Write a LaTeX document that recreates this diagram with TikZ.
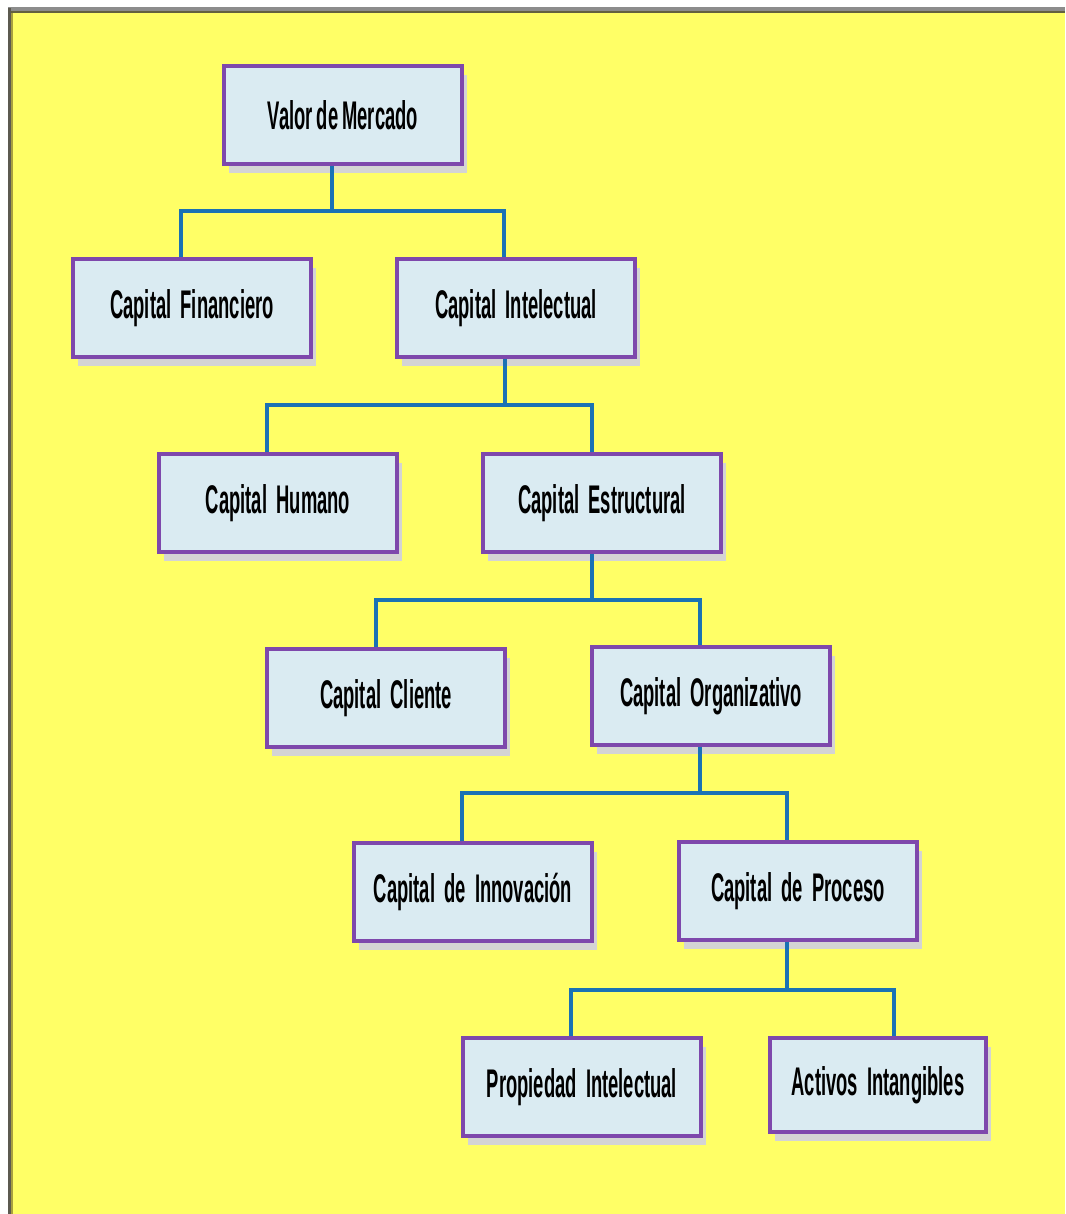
\documentclass[tikz,border=0pt]{standalone}
\usepackage{fontspec}
\usetikzlibrary{shadows}
\newfontfamily\boxfont[FakeStretch=0.46,WordSpace=1.8]{Liberation Sans}

\definecolor{pagebg}{HTML}{FFFF66}
\definecolor{boxfill}{HTML}{DAEBF2}
\definecolor{boxedge}{HTML}{7E48AC}
\definecolor{shade}{HTML}{D4D4D4}
\definecolor{wire}{HTML}{1A72B4}
\definecolor{frametop}{HTML}{8C8C8C}
\definecolor{framedark}{HTML}{5C5A50}
\definecolor{frameolive}{HTML}{A8A040}

\tikzset{
  orgbox/.style={draw=boxedge, line width=3.4pt, fill=boxfill,
    minimum width=#1, minimum height=98pt, inner sep=0pt,
    font=\boxfont\bfseries\fontsize{40}{44}\selectfont, text=black,
    drop shadow={shadow xshift=5pt, shadow yshift=-9pt, fill=shade, opacity=1}},
  orgbox/.default=238pt,
  link/.style={draw=wire, line width=3.2pt}
}

\begin{document}
\begin{tikzpicture}[x=1pt,y=-1pt]
  % page and frame
  \useasboundingbox (0,0) rectangle (1065,1214);
  \fill[white] (0,0) rectangle (1065,1214);
  \fill[pagebg] (8,8) rectangle (1065,1214);
  \fill[frametop] (8,7) rectangle (1065,11);
  \fill[framedark!80!olive] (8,11) rectangle (1065,13);
  \fill[framedark] (8,8) rectangle (11,1214);
  \fill[frameolive] (11,13) rectangle (12.5,1214);

  % boxes
  \node[orgbox] (vm)  at (343,115)  {{\spaceskip=4pt Valor de Mercado}};
  \node[orgbox] (cf)  at (192,308)  {Capital Financiero};
  \node[orgbox] (ci)  at (516,308)  {Capital Intelectual};
  \node[orgbox] (ch)  at (278,503)  {Capital Humano};
  \node[orgbox] (ce)  at (602,503)  {Capital Estructural};
  \node[orgbox] (cc)  at (386,698)  {Capital Cliente};
  \node[orgbox] (co)  at (711,696)  {Capital Organizativo};
  \node[orgbox] (cin) at (473,892)  {Capital de Innovación};
  \node[orgbox] (cp)  at (798,891)  {Capital de Proceso};
  \node[orgbox] (pi)  at (582,1087) {Propiedad Intelectual};
  \node[orgbox=216pt, minimum height=94pt] (ai) at (878,1085) {Activos Intangibles};

  % branch points
  \coordinate (b1) at (332,211);
  \coordinate (b2) at (505,405);
  \coordinate (b3) at (592,600);
  \coordinate (b4) at (700,793);
  \coordinate (b5) at (787,990);

  % connectors
  \draw[link] (vm.south -| b1) -- (b1);
  \draw[link] ([xshift=-11pt]cf.north) |- (b1) -| ([xshift=-12pt]ci.north);
  \draw[link] (ci.south -| b2) -- (b2);
  \draw[link] ([xshift=-11pt]ch.north) |- (b2) -| ([xshift=-10pt]ce.north);
  \draw[link] (ce.south -| b3) -- (b3);
  \draw[link] ([xshift=-10pt]cc.north) |- (b3) -| ([xshift=-11pt]co.north);
  \draw[link] (co.south -| b4) -- (b4);
  \draw[link] ([xshift=-11pt]cin.north) |- (b4) -| ([xshift=-11pt]cp.north);
  \draw[link] (cp.south -| b5) -- (b5);
  \draw[link] ([xshift=-11pt]pi.north) |- (b5) -| ([xshift=16pt]ai.north);
\end{tikzpicture}
\end{document}
